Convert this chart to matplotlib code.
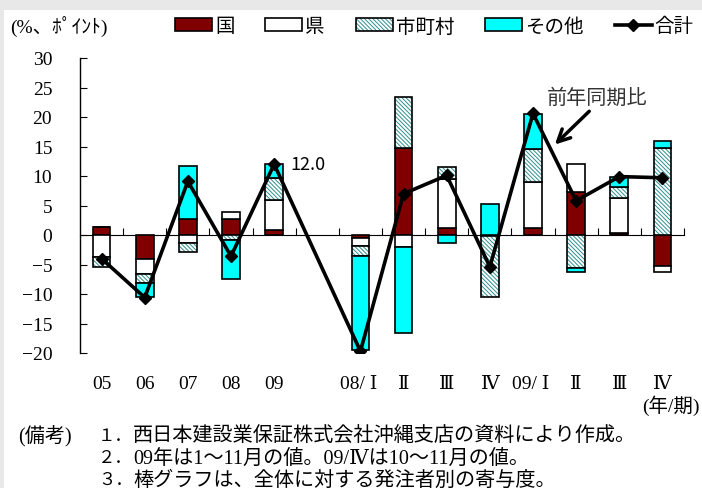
import numpy as np
import matplotlib
matplotlib.use("Agg")
import matplotlib.pyplot as plt
from matplotlib.patches import Patch, Rectangle
from matplotlib.lines import Line2D
from matplotlib.legend_handler import HandlerTuple

plt.rcParams['font.family'] = ['Liberation Serif', 'DejaVu Serif', 'Noto Sans CJK JP']
plt.rcParams['hatch.linewidth'] = 0.7

GOTHIC = ['Noto Sans CJK JP', 'DejaVu Sans']
HATCH = '\\' * 8

# 発注者別寄与度（%、ポイント）
categories = ['05', '06', '07', '08', '09',
              '08/ Ⅰ', 'Ⅱ', 'Ⅲ', 'Ⅳ', '09/ Ⅰ', 'Ⅱ', 'Ⅲ', 'Ⅳ']
kuni   = [1.4, -4.0, 2.7, 2.7, 0.9, -0.5, 14.7, 1.2, -0.2, 1.2, 7.3, 0.3, -5.3]
ken    = [-3.8, -2.6, -1.4, 1.2, 5.0, -1.4, -2.0, 8.3, 0.0, 7.8, 4.8, 6.0, -1.0]
shichoson = [-1.7, -1.6, -1.4, -0.9, 3.7, -1.6, 8.7, 2.0, -10.3, 5.5, -5.6, 1.8, 14.7]
sonota = [0.0, -2.3, 9.0, -6.6, 2.4, -16.0, -14.6, -1.3, 5.2, 6.0, -0.6, 1.8, 1.2]
gokei  = [-4.0, -10.6, 9.1, -3.6, 12.0, -19.7, 7.0, 10.1, -5.4, 20.6, 5.8, 9.9, 9.7]

# 年次5本のあとに1枠空けて四半期を並べる
x = np.array([i + 0.5 + (1 if i >= 5 else 0) for i in range(len(categories))])

fig = plt.figure(figsize=(7.02, 4.89), dpi=100, facecolor='#e8e8e8')
fig.patches.append(Rectangle((4 / 702, 0), 1, 1 - 11 / 489, transform=fig.transFigure,
                             facecolor='white', edgecolor='none', zorder=-1))

ax = fig.add_axes([80 / 702, (489 - 354) / 489, 604 / 702, (354 - 59) / 489])
ax.set_facecolor('none')
ax.set_xlim(0, 14)
ax.set_ylim(-20, 30)

w = 0.41
pos = np.zeros(len(x))
neg = np.zeros(len(x))
series = [(kuni, '#800000', None), (ken, 'white', None),
          (shichoson, 'white', HATCH), (sonota, '#00ffff', None)]
for vals, col, hatch in series:
    v = np.array(vals)
    bottom = np.where(v >= 0, pos, neg)
    if hatch:
        ax.bar(x, v, w, bottom=bottom, color='white', hatch=hatch,
               edgecolor='#2f8f8f', linewidth=0, zorder=2)
        ax.bar(x, v, w, bottom=bottom, fill=False, edgecolor='black',
               linewidth=1.2, zorder=2)
    else:
        ax.bar(x, v, w, bottom=bottom, color=col, edgecolor='black',
               linewidth=1.2, zorder=2)
    pos = pos + np.where(v >= 0, v, 0)
    neg = neg + np.where(v < 0, v, 0)

ax.plot(x, gokei, color='black', lw=2.6, marker='D', markersize=6.5, zorder=4)

# 09年の合計値
ax.annotate(f'{gokei[4]:.1f}', xy=(x[4], gokei[4]), xytext=(12, 0),
            textcoords='offset points', va='center', ha='left',
            fontsize=13, family=GOTHIC)

ax.text(11.98, 23.3, '前年同期比', ha='center', va='center', fontsize=14.5,
        family=GOTHIC, color='#333333')
ax.annotate('', xy=(10.96, 15.0), xytext=(11.85, 21.3),
            arrowprops=dict(arrowstyle='->', lw=2.5, color='black',
                            mutation_scale=22), zorder=5)

for s in ['top', 'right']:
    ax.spines[s].set_visible(False)
ax.spines['bottom'].set_position(('data', 0))
ax.spines['bottom'].set_zorder(1)
ax.spines['left'].set_linewidth(1.0)

ax.set_xticks(np.arange(1, 15))
ax.tick_params(axis='x', direction='in', length=5, labelbottom=False)
ax.set_yticks(np.arange(-20, 31, 5))
ax.tick_params(axis='y', direction='in', length=5, pad=20, labelsize=14)

for xi, lab in zip(x, categories):
    ax.text(xi - (0.05 if '/' in lab else 0), -0.105, lab,
            transform=ax.get_xaxis_transform(), ha='center', va='center',
            fontsize=14)

fig.text(700 / 702, 1 - 406 / 489, '(年/期)', ha='right', va='center', fontsize=14)
fig.text(10 / 702, 1 - 27 / 489, '(%、ﾎﾟｲﾝﾄ)', ha='left', va='center', fontsize=14)

handles = [
    Patch(facecolor='#800000', edgecolor='black', linewidth=1.2),
    Patch(facecolor='white', edgecolor='black', linewidth=1.2),
    (Patch(facecolor='white', edgecolor='#2f8f8f', hatch=HATCH, linewidth=0),
     Patch(fill=False, edgecolor='black', linewidth=1.2)),
    Patch(facecolor='#00ffff', edgecolor='black', linewidth=1.2),
    Line2D([], [], color='black', lw=2.6, marker='D', markersize=6),
]
labels = ['国', '県', '市町村', 'その他', '合計']
fig.legend(handles, labels, loc='center left', bbox_to_anchor=(175 / 702, 1 - 27 / 489),
           ncol=5, frameon=False, handlelength=1.9, handleheight=0.65,
           handletextpad=0.15, columnspacing=1.6, borderpad=0, borderaxespad=0,
           prop={'family': GOTHIC, 'size': 14},
           handler_map={tuple: HandlerTuple(ndivide=1)})

fig.text(18 / 702, 1 - 437 / 489, '(備考)', ha='left', va='center', fontsize=14.5)
notes = [
    (437, '１．', '西日本建設業保証株式会社沖縄支店の資料により作成。'),
    (459, '２．', '09年は1～11月の値。09/Ⅳは10～11月の値。'),
    (481, '３．', '棒グラフは、全体に対する発注者別の寄与度。'),
]
for py, num, t in notes:
    fig.text(98 / 702, 1 - py / 489, num, ha='left', va='center', fontsize=12.5)
    fig.text(133 / 702, 1 - py / 489, t, ha='left', va='center', fontsize=14.5)

fig.savefig('out.png', dpi=100, facecolor=fig.get_facecolor())
